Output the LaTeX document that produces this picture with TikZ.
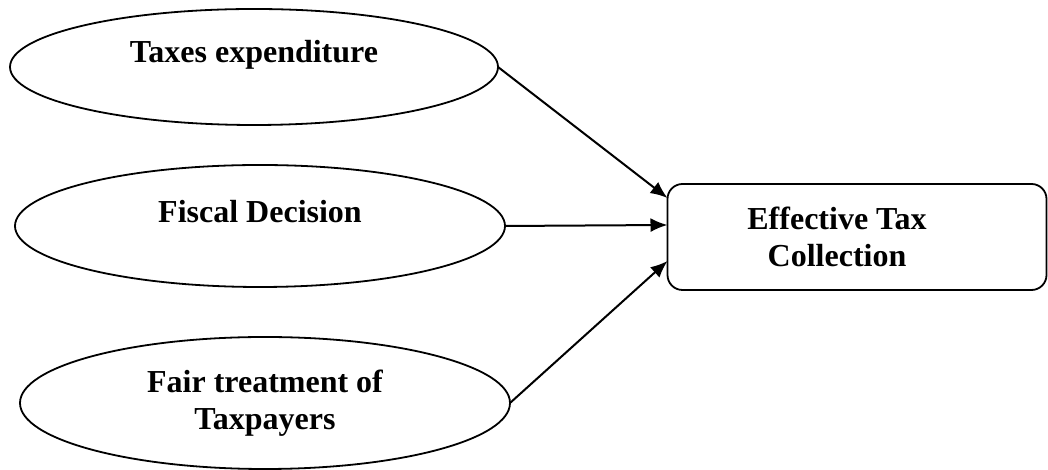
\documentclass[tikz,border=0pt]{standalone}
\usepackage{fontspec}
\setmainfont{Liberation Serif}
\usetikzlibrary{calc,shapes.geometric,arrows.meta}
\begin{document}
\begin{tikzpicture}[x=1pt,y=1pt,
  oval/.style={draw, ellipse, line width=1.8pt, outer sep=0pt, inner sep=0pt},
  lbl/.style={font=\fontsize{32}{37}\selectfont\bfseries, align=center},
  resbox/.style={draw, rounded corners=15pt, line width=1.8pt, outer sep=0pt,
    minimum width=379pt, minimum height=106pt},
  link/.style={line width=2pt, -{Latex[length=17pt,width=14pt]}}]
\useasboundingbox (0,0) rectangle (1048,470);
\node[oval, minimum width=488pt, minimum height=116pt] (te) at (254,403) {};
\node[oval, minimum width=490pt, minimum height=122pt] (fd) at (260,244) {};
\node[oval, minimum width=490pt, minimum height=132pt] (ft) at (265,67) {};
\node[resbox] (etc) at (857,233) {};
\node[lbl] at ($(te.center)+(0,12)$) {Taxes expenditure};
\node[lbl] at ($(fd.center)+(0,14)$) {Fiscal Decision};
\node[lbl] at ($(ft.center)+(0,0)$) {Fair treatment of\\Taxpayers};
\node[lbl] at ($(etc.center)+(-20,0)$) {Effective Tax\\Collection};
\coordinate (e1) at ($(etc.west)+(0,39)$);
\coordinate (e2) at ($(etc.west)+(0,12)$);
\coordinate (e3) at ($(etc.west)+(0,-24)$);
\draw[link] (te.east)--(e1);
\draw[link] (fd.east)--(e2);
\draw[link] (ft.east)--(e3);
\end{tikzpicture}
\end{document}
